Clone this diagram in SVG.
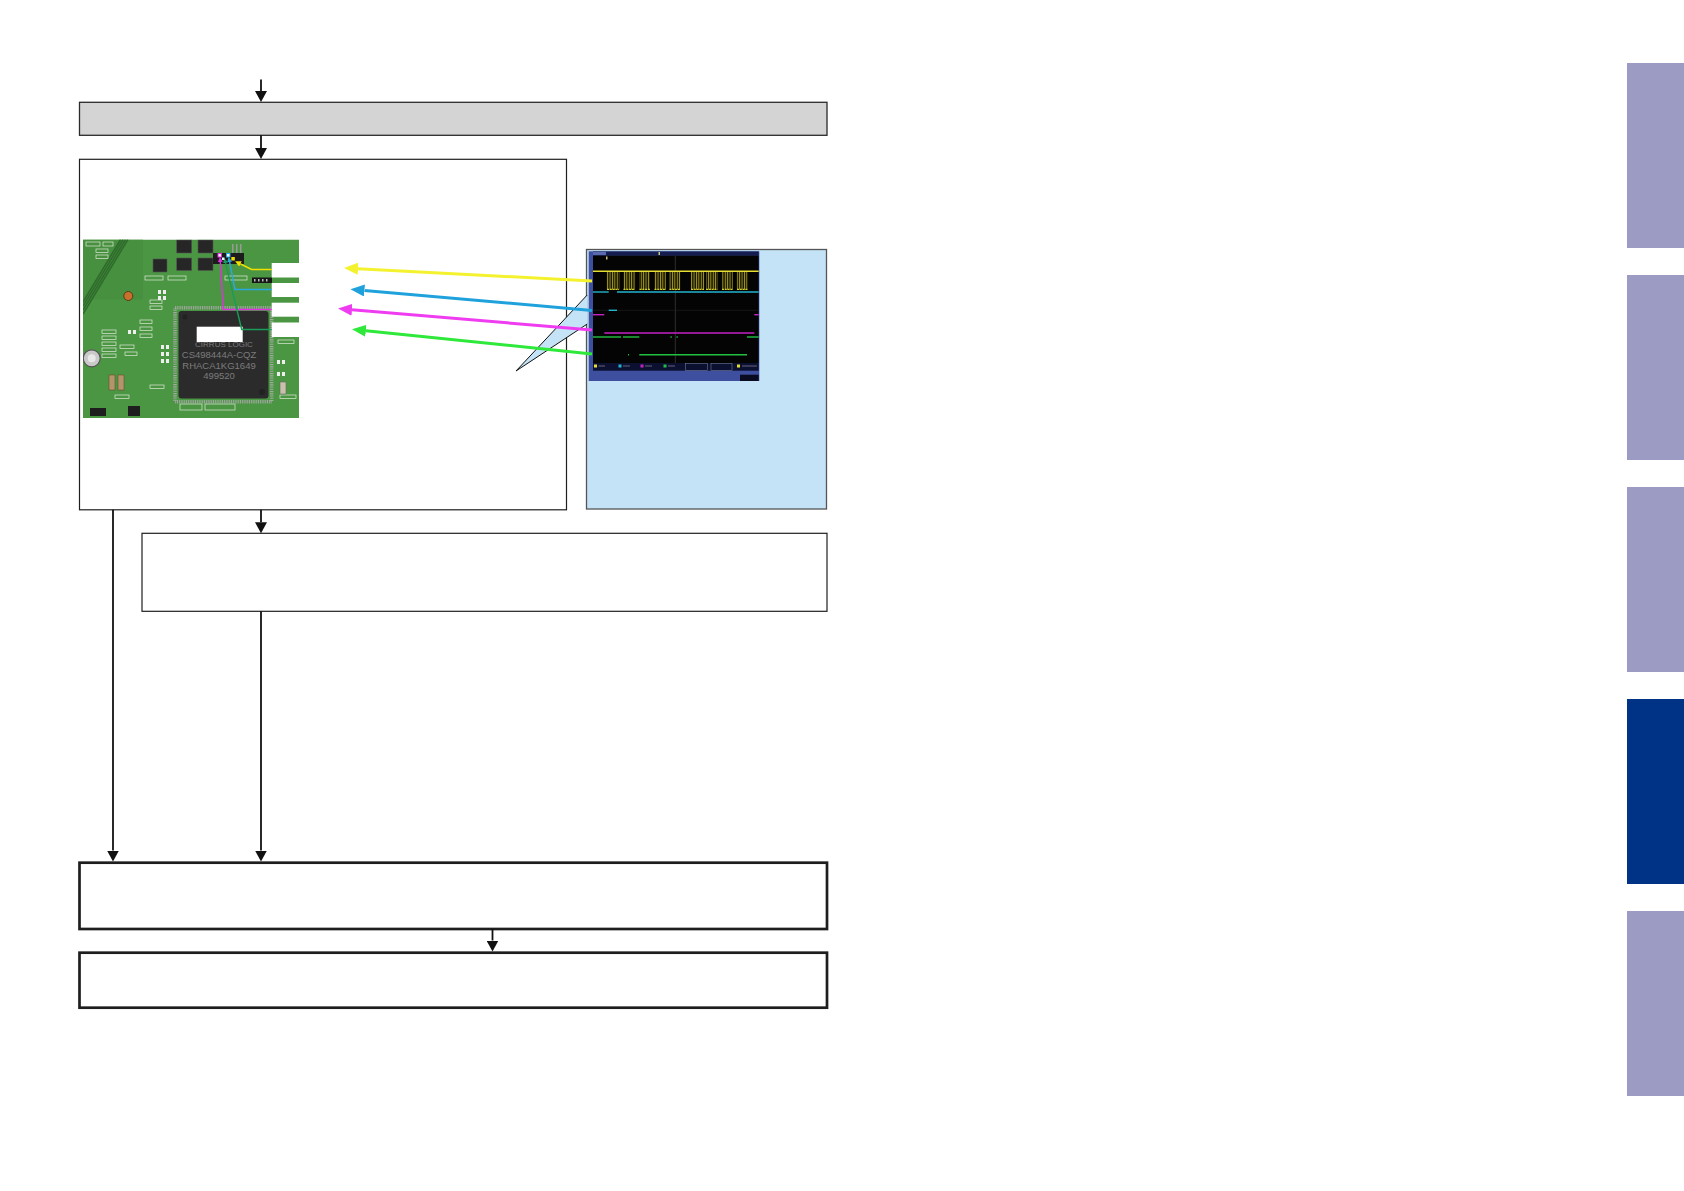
<svg xmlns="http://www.w3.org/2000/svg" width="1684" height="1191" viewBox="0 0 1684 1191">
<style>
.box{fill:#ffffff;stroke:#1e1e1e;stroke-width:1.2}
.thick{fill:#ffffff;stroke:#1e1e1e;stroke-width:2.7}
.conn{stroke:#111;stroke-width:1.8;fill:none}
.tab{fill:#9b9bc4}
.tabon{fill:#003286}
.sot{fill:#262626;stroke:#555;stroke-width:0.6}
.silk{fill:none;stroke:#dfe9d6;stroke-width:0.7}
.wl{fill:#ffffff}
.chiptxt{font-family:"Liberation Sans",Arial,sans-serif;fill:#7c7c7c;text-anchor:middle}
.trace{fill:none;stroke-width:1.4}
</style>
<defs>
<marker id="ah" markerUnits="userSpaceOnUse" markerWidth="11" markerHeight="12" refX="0" refY="6" orient="auto" viewBox="0 0 11 12">
<path d="M0,0 L11,6 L0,12 z" fill="#111"/>
</marker>
<marker id="ahY" markerUnits="userSpaceOnUse" markerWidth="14" markerHeight="12" refX="0" refY="6" orient="auto" viewBox="0 0 14 12"><path d="M0,0 L14,6 L0,12 z" fill="#f4f22e"/></marker>
<marker id="ahC" markerUnits="userSpaceOnUse" markerWidth="14" markerHeight="12" refX="0" refY="6" orient="auto" viewBox="0 0 14 12"><path d="M0,0 L14,6 L0,12 z" fill="#1fa2dc"/></marker>
<marker id="ahM" markerUnits="userSpaceOnUse" markerWidth="14" markerHeight="12" refX="0" refY="6" orient="auto" viewBox="0 0 14 12"><path d="M0,0 L14,6 L0,12 z" fill="#f03cf0"/></marker>
<marker id="ahG" markerUnits="userSpaceOnUse" markerWidth="14" markerHeight="12" refX="0" refY="6" orient="auto" viewBox="0 0 14 12"><path d="M0,0 L14,6 L0,12 z" fill="#2ee83a"/></marker>
<marker id="sY" markerUnits="userSpaceOnUse" markerWidth="6" markerHeight="6" refX="0" refY="3" orient="auto" viewBox="0 0 6 6"><path d="M0,0 L6,3 L0,6 z" fill="#f0e000"/></marker>
<marker id="sC" markerUnits="userSpaceOnUse" markerWidth="5" markerHeight="5" refX="0" refY="2.5" orient="auto" viewBox="0 0 5 5"><path d="M0,0 L5,2.5 L0,5 z" fill="#2aa8e2"/></marker>
<marker id="sM" markerUnits="userSpaceOnUse" markerWidth="5" markerHeight="5" refX="0" refY="2.5" orient="auto" viewBox="0 0 5 5"><path d="M0,0 L5,2.5 L0,5 z" fill="#e030e0"/></marker>
<marker id="sG" markerUnits="userSpaceOnUse" markerWidth="5" markerHeight="5" refX="0" refY="2.5" orient="auto" viewBox="0 0 5 5"><path d="M0,0 L5,2.5 L0,5 z" fill="#189c58"/></marker>
<pattern id="burst" patternUnits="userSpaceOnUse" width="2.4" height="20">
<rect x="0" y="0" width="2.4" height="20" fill="#1a1800"/>
<rect x="0" y="0" width="0.9" height="20" fill="#a89f24"/>
</pattern>
<clipPath id="pcbclip"><rect x="83" y="239.5" width="216" height="178.5"/></clipPath>
</defs>

<!-- side tabs -->
<g id="tabs">
<rect class="tab" x="1627" y="63" width="57" height="185"/>
<rect class="tab" x="1627" y="275" width="57" height="185"/>
<rect class="tab" x="1627" y="487" width="57" height="185"/>
<rect class="tabon" x="1627" y="699" width="57" height="185"/>
<rect class="tab" x="1627" y="911" width="57" height="185"/>
</g>

<g id="n-gray">
<rect x="79.5" y="102.3" width="747.5" height="33" fill="#d4d4d4" stroke="#2a2a2a" stroke-width="1.3"/>
</g>

<g id="n-main">
<rect class="box" x="79.5" y="159.3" width="487" height="350.5"/>
</g>

<!-- PCB photo drawn as shapes -->
<g id="n-pcb" clip-path="url(#pcbclip)">
<rect x="83" y="239.5" width="216" height="178.5" fill="#4b9643"/>
<rect x="83" y="239.5" width="60" height="60" fill="#47903f"/>
<g stroke="#2f6c2c" stroke-width="1.6">
<line x1="83" y1="302" x2="120.6" y2="239.5"/>
<line x1="83" y1="306" x2="123" y2="239.5"/>
<line x1="83" y1="310" x2="125.5" y2="239.5"/>
<line x1="83" y1="314" x2="127.9" y2="239.5"/>
</g>
<!-- silkscreen marks -->
<g class="silk">
<rect x="86" y="242" width="14" height="4"/>
<rect x="103" y="242" width="10" height="4"/>
<rect x="96" y="249" width="12" height="3.5"/>
<rect x="96" y="255" width="12" height="3.5"/>
<rect x="102" y="330" width="14" height="3.5"/>
<rect x="102" y="336" width="14" height="3.5"/>
<rect x="102" y="342" width="14" height="3.5"/>
<rect x="102" y="348" width="14" height="3.5"/>
<rect x="102" y="354" width="14" height="3.5"/>
<rect x="145" y="276" width="18" height="4"/>
<rect x="168" y="276" width="18" height="4"/>
<rect x="150" y="300" width="12" height="3.5"/>
<rect x="150" y="306" width="12" height="3.5"/>
<rect x="140" y="320" width="12" height="3.5"/>
<rect x="140" y="327" width="12" height="3.5"/>
<rect x="140" y="334" width="12" height="3.5"/>
<rect x="120" y="345" width="14" height="3.5"/>
<rect x="125" y="352" width="12" height="3.5"/>
<rect x="115" y="395" width="14" height="3.5"/>
<rect x="150" y="385" width="14" height="3.5"/>
<rect x="225" y="276" width="22" height="4"/>
<rect x="278" y="340" width="16" height="3.5"/>
<rect x="280" y="395" width="16" height="3.5"/>
<rect x="180" y="404" width="22" height="6"/>
<rect x="205" y="404" width="30" height="6"/>
</g>
<g fill="#eeeeee">
<rect x="158" y="290" width="3" height="4"/><rect x="163" y="290" width="3" height="4"/>
<rect x="158" y="296" width="3" height="4"/><rect x="163" y="296" width="3" height="4"/>
<rect x="128" y="330" width="3" height="4"/><rect x="133" y="330" width="3" height="4"/>
<rect x="161" y="345" width="3" height="4"/><rect x="166" y="345" width="3" height="4"/>
<rect x="161" y="352" width="3" height="4"/><rect x="166" y="352" width="3" height="4"/>
<rect x="161" y="359" width="3" height="4"/><rect x="166" y="359" width="3" height="4"/>
<rect x="277" y="360" width="3" height="4"/><rect x="282" y="360" width="3" height="4"/>
<rect x="277" y="372" width="3" height="4"/><rect x="282" y="372" width="3" height="4"/>
</g>
<!-- vias / parts -->
<circle cx="128.3" cy="296" r="4.5" fill="#c8712c" stroke="#5a3a1a" stroke-width="1"/>
<circle cx="91.7" cy="358.3" r="8.5" fill="#c9c9c9" stroke="#555" stroke-width="1.2"/>
<circle cx="91.7" cy="358.3" r="4" fill="#e8e8e8"/>
<rect x="109" y="375" width="6" height="15" fill="#b4946a" stroke="#6a5030" stroke-width="0.6"/>
<rect x="118" y="375" width="6" height="15" fill="#b4946a" stroke="#6a5030" stroke-width="0.6"/>
<rect x="128" y="406" width="12" height="10" fill="#1e1e1e"/>
<rect x="90" y="408" width="16" height="8" fill="#1e1e1e"/>
<rect x="280" y="382" width="6" height="12" fill="#c8c0a8" stroke="#666" stroke-width="0.6"/>
<!-- SOT transistors -->
<rect class="sot" x="176.7" y="240" width="15" height="13"/>
<rect class="sot" x="198" y="240" width="15" height="13"/>
<rect class="sot" x="176.7" y="258" width="15" height="12.5"/>
<rect class="sot" x="198" y="258" width="15" height="12.5"/>
<rect class="sot" x="153" y="259" width="14" height="13"/>
<!-- header connector -->
<rect x="213" y="253" width="31" height="11" fill="#1c1c1c"/>
<g fill="#9a9a9a"><rect x="236" y="244" width="1.5" height="9"/><rect x="240" y="244" width="1.5" height="9"/><rect x="232" y="244" width="1.5" height="9"/></g>
<rect x="252" y="277.5" width="20" height="5.5" fill="#161616"/>
<g fill="#bbbbbb"><rect x="254" y="279" width="1.5" height="2.5"/><rect x="258" y="279" width="1.5" height="2.5"/><rect x="262" y="279" width="1.5" height="2.5"/><rect x="266" y="279" width="1.5" height="2.5"/></g>
<!-- main chip -->
<rect x="175" y="307.7" width="96.7" height="94" fill="none" stroke="#a8a8a8" stroke-width="3.5" stroke-dasharray="0.9 0.9"/>
<rect x="178.5" y="311" width="90" height="87.5" rx="3" fill="#2b2b2b"/>
<circle cx="185" cy="317" r="2.5" fill="#222"/>
<circle cx="262" cy="392" r="3" fill="#222"/>
<text class="chiptxt" x="224" y="346.5" font-size="8">CIRRUS LOGIC</text>
<text class="chiptxt" x="219" y="358" font-size="9.5">CS498444A-CQZ</text>
<text class="chiptxt" x="219" y="368.5" font-size="9.5">RHACA1KG1649</text>
<text class="chiptxt" x="219" y="379" font-size="9.5">499520</text>
<rect class="wl" x="196.7" y="326.7" width="46" height="15.3"/>
<!-- white label patches -->
<rect class="wl" x="271.7" y="263" width="27.3" height="14.5"/>
<rect class="wl" x="271.7" y="283" width="27.3" height="14"/>
<rect class="wl" x="271.7" y="302.7" width="27.3" height="14"/>
<rect class="wl" x="271.7" y="322.5" width="27.3" height="14.5"/>
<!-- probe wires -->
<polyline class="trace" points="271.7,269.5 251.7,269.5 240.5,264" stroke="#f0e000" stroke-width="1.6" marker-end="url(#sY)"/>
<polyline class="trace" points="271.7,289.5 235,289.5 229.6,262" stroke="#2aa8e2" marker-end="url(#sC)"/>
<polyline class="trace" points="271.7,309.5 223.3,309.5 220.3,262" stroke="#e030e0" marker-end="url(#sM)"/>
<polyline class="trace" points="271.7,329.5 241.7,329.5 225.5,263" stroke="#189c58" marker-end="url(#sG)"/>
<rect x="218" y="253.5" width="3.5" height="3.5" fill="#fff" stroke="#e030e0" stroke-width="1"/>
<rect x="222" y="257.5" width="2.5" height="2.5" fill="#dff"/>
<rect x="226.5" y="253.5" width="3.5" height="3.5" fill="#fff" stroke="#2aa8e2" stroke-width="1"/>
<rect x="231.3" y="257" width="3.5" height="3.5" fill="#f0e000"/>
</g>

<g id="n-scope">
<rect x="586.5" y="249.5" width="240" height="259.5" fill="#c4e3f6" stroke="#555" stroke-width="1.3"/>
<path d="M587.2,295 L516,371 L587.2,324 z" fill="#c4e3f6"/>
<polyline points="587.2,295 516,371 587.2,324" fill="none" stroke="#111" stroke-width="1"/>
<!-- oscilloscope screenshot drawn as shapes -->
<rect x="588.7" y="251.3" width="170.6" height="129.7" fill="#3d4f9e"/>
<rect x="593" y="251.5" width="165.7" height="4" fill="#151c50"/>
<rect x="593" y="251.8" width="13" height="3.4" fill="#5a6ab0"/>
<rect x="593" y="255.5" width="165.7" height="107.5" fill="#040404"/>
<line x1="675.3" y1="256" x2="675.3" y2="363" stroke="#3a3a3a" stroke-width="0.8"/>
<line x1="593" y1="310.3" x2="758.7" y2="310.3" stroke="#222" stroke-width="0.6"/>
<rect x="658.5" y="252" width="1.5" height="3" fill="#c8c080"/>
<rect x="606" y="256.5" width="1.5" height="3" fill="#c8c080"/>
<!-- yellow channel -->
<g fill="url(#burst)">
<rect x="606.7" y="271.3" width="12.6" height="18.4"/>
<rect x="623.3" y="271.3" width="12" height="18.4"/>
<rect x="639.3" y="271.3" width="10.7" height="18.4"/>
<rect x="654.3" y="271.3" width="11.7" height="18.4"/>
<rect x="669.3" y="271.3" width="11" height="18.4"/>
<rect x="691" y="271.3" width="13.3" height="18.4"/>
<rect x="706" y="271.3" width="11.7" height="18.4"/>
<rect x="722" y="271.3" width="10.7" height="18.4"/>
<rect x="736.7" y="271.3" width="11" height="18.4"/>
</g>
<line class="trace" x1="593" y1="271.3" x2="758.7" y2="271.3" stroke="#e6de30" stroke-width="1.6"/>
<g stroke="#d8d030" stroke-width="1.2" stroke-dasharray="2 0.8">
<line x1="607" y1="289.3" x2="619" y2="289.3"/>
<line x1="623.5" y1="289.3" x2="635" y2="289.3"/>
<line x1="639.5" y1="289.3" x2="650" y2="289.3"/>
<line x1="654.5" y1="289.3" x2="666" y2="289.3"/>
<line x1="669.5" y1="289.3" x2="680" y2="289.3"/>
<line x1="691" y1="289.3" x2="704" y2="289.3"/>
<line x1="706" y1="289.3" x2="717.5" y2="289.3"/>
<line x1="722" y1="289.3" x2="732.5" y2="289.3"/>
<line x1="737" y1="289.3" x2="747.5" y2="289.3"/>
</g>
<!-- cyan channel -->
<g stroke="#22b4cc">
<line class="trace" x1="593" y1="292" x2="608.7" y2="292"/>
<line class="trace" x1="617" y1="292" x2="758.7" y2="292"/>
<line class="trace" x1="608.7" y1="310.3" x2="617" y2="310.3"/>
</g>
<!-- magenta channel -->
<g stroke="#c422c4">
<line class="trace" x1="593" y1="314.7" x2="604.3" y2="314.7"/>
<line class="trace" x1="754.3" y1="314.7" x2="758.7" y2="314.7"/>
<line class="trace" x1="604.3" y1="333" x2="754.3" y2="333"/>
</g>
<!-- green channel -->
<g stroke="#22c040">
<line class="trace" x1="593" y1="337" x2="621" y2="337"/>
<line class="trace" x1="623" y1="337" x2="639.3" y2="337"/>
<line class="trace" x1="670.5" y1="337" x2="671.8" y2="337"/>
<line class="trace" x1="676.5" y1="337" x2="677.8" y2="337"/>
<line class="trace" x1="747" y1="337" x2="758.7" y2="337"/>
<line class="trace" x1="639.3" y1="354.7" x2="747" y2="354.7"/>
<line class="trace" x1="628" y1="354.7" x2="629" y2="354.7"/>
</g>
<!-- status bar -->
<rect x="593" y="363" width="165.7" height="7.7" fill="#0c1030"/>
<rect x="594" y="364.5" width="3" height="3" fill="#e6de30"/>
<rect x="618.5" y="364.5" width="3" height="3" fill="#22b4cc"/>
<rect x="640.5" y="364.5" width="3" height="3" fill="#c422c4"/>
<rect x="663.5" y="364.5" width="3" height="3" fill="#22c040"/>
<rect x="737" y="364.5" width="3" height="3" fill="#e6de30"/>
<g fill="none" stroke="#8088a8" stroke-width="0.5">
<rect x="685.5" y="363.5" width="22" height="7"/>
<rect x="711" y="363.5" width="21" height="7"/>
</g>
<g stroke="#7a7a90" stroke-width="0.8">
<line x1="598.5" y1="366" x2="605" y2="366"/>
<line x1="623" y1="366" x2="630" y2="366"/>
<line x1="645" y1="366" x2="652" y2="366"/>
<line x1="668" y1="366" x2="675" y2="366"/>
<line x1="742" y1="366" x2="757" y2="366"/>
</g>
<rect x="740" y="374.7" width="18.7" height="6.3" fill="#0a0a20"/>
</g>

<g id="n-box3">
<rect class="box" x="142" y="533.3" width="685" height="78"/>
</g>
<g id="n-box4">
<rect class="thick" x="79.5" y="862.7" width="747.5" height="66.3"/>
</g>
<g id="n-box5">
<rect class="thick" x="79.5" y="952.7" width="747.5" height="55"/>
</g>

<g id="connectors">
<line class="conn" x1="261" y1="79.5" x2="261" y2="91" marker-end="url(#ah)"/>
<line class="conn" x1="261" y1="135.3" x2="261" y2="148" marker-end="url(#ah)"/>
<line class="conn" x1="261" y1="509.8" x2="261" y2="522.3" marker-end="url(#ah)"/>
<line class="conn" x1="113" y1="509.8" x2="113" y2="850.5" marker-end="url(#ah)"/>
<line class="conn" x1="261" y1="611.3" x2="261" y2="850.5" marker-end="url(#ah)"/>
<line class="conn" x1="492.5" y1="929" x2="492.5" y2="940.5" marker-end="url(#ah)"/>
<!-- signal arrows from scope to probe points -->
<line x1="592" y1="281" x2="358" y2="268.7" stroke="#f4f22e" stroke-width="3" marker-end="url(#ahY)"/>
<line x1="592" y1="310.5" x2="364.4" y2="290.5" stroke="#1fa2dc" stroke-width="3" marker-end="url(#ahC)"/>
<line x1="592" y1="330" x2="352" y2="309.7" stroke="#f03cf0" stroke-width="3" marker-end="url(#ahM)"/>
<line x1="592" y1="354" x2="365.9" y2="330.7" stroke="#2ee83a" stroke-width="3" marker-end="url(#ahG)"/>
</g>
</svg>
